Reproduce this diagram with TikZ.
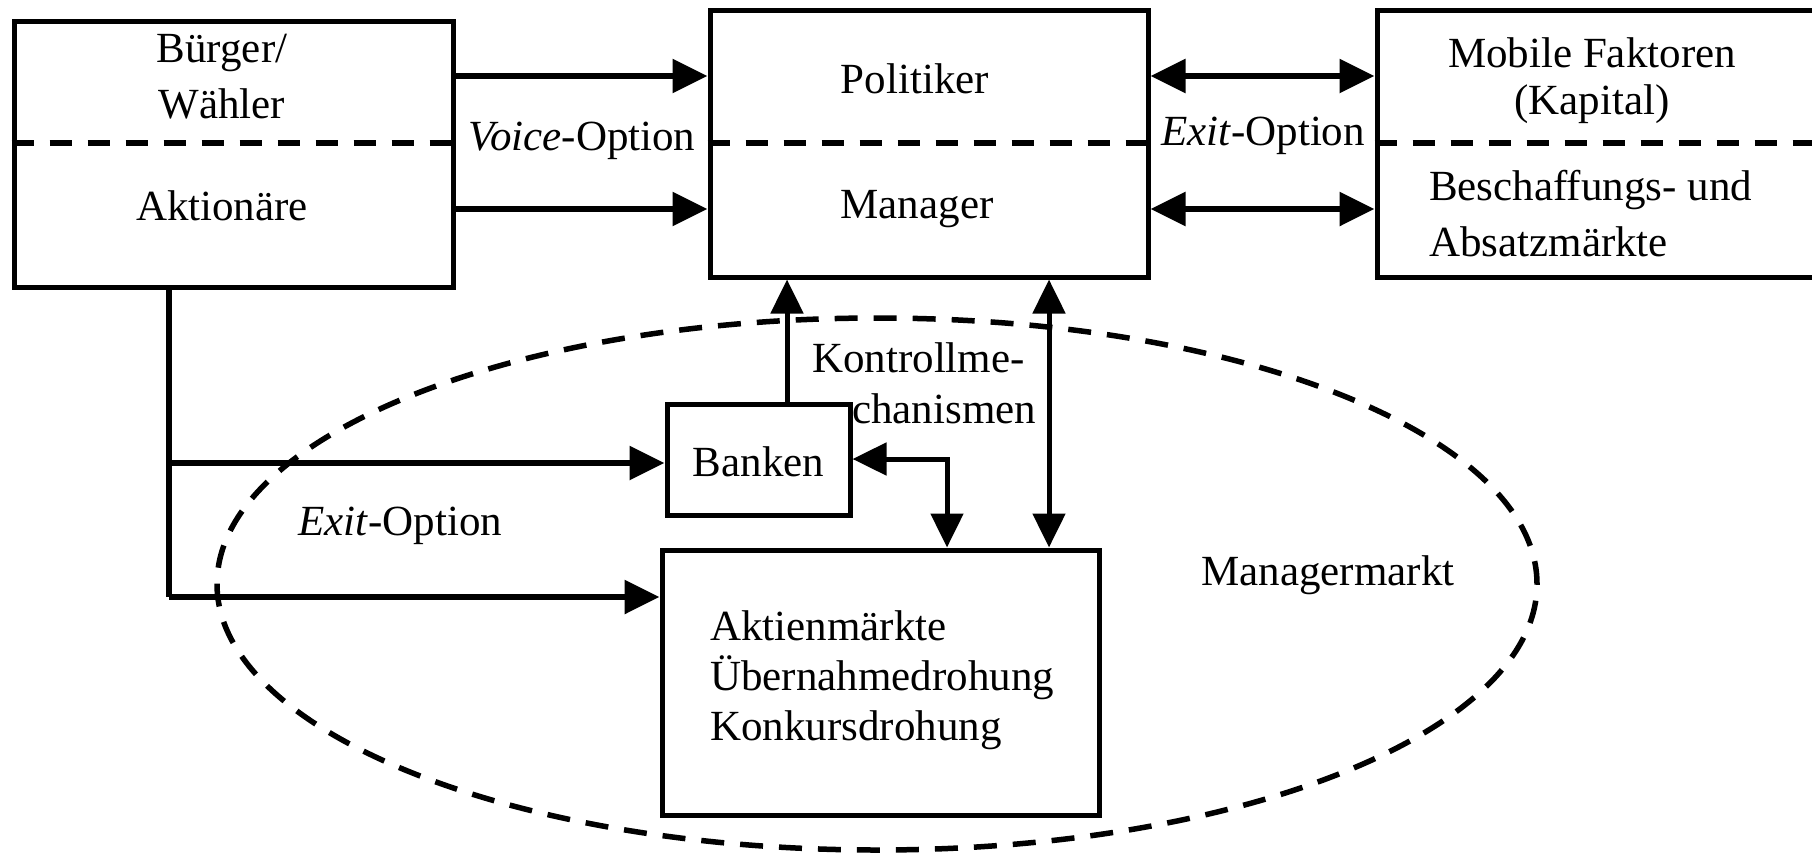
\documentclass[tikz,border=0pt]{standalone}
\usepackage{fontspec}
\setmainfont{Liberation Serif}
\usetikzlibrary{arrows.meta,shapes.geometric}
\begin{document}
\begin{tikzpicture}[x=1pt,y=-1pt,
  box/.style={draw, line width=5pt, fill=white, inner sep=0pt, rectangle},
  arr/.style={line width=6pt, -{Triangle[length=35pt,width=33pt]}},
  darr/.style={line width=6pt, {Triangle[length=35pt,width=33pt]}-{Triangle[length=35pt,width=33pt]}},
  thinarr/.style={line width=5pt, -{Triangle[length=34pt,width=32pt]}},
  thindarr/.style={line width=5pt, {Triangle[length=34pt,width=32pt]}-{Triangle[length=34pt,width=32pt]}},
  conn/.style={line width=6pt},
  dashline/.style={line width=6pt, dash pattern=on 22pt off 16pt},
  ellline/.style={line width=5.5pt, dash pattern=on 23pt off 16pt},
  txt/.style={inner sep=0pt, font=\fontsize{43}{52}\selectfont},
]
\useasboundingbox (0,0) rectangle (1812,852);
% ellipse (managermarkt)
\node[ellline, draw, ellipse, minimum width=1320pt, minimum height=532pt, inner sep=0pt] (E) at (877,584) {};

% boxes
\node[box, minimum width=439pt, minimum height=266pt] (L) at (233.5,154) {};
\node[box, minimum width=438pt, minimum height=267pt] (P) at (929,143.5) {};
\node[box, minimum width=470pt, minimum height=267pt] (R) at (1612,143.5) {};
\node[box, minimum width=183pt, minimum height=111pt] (B) at (758.5,460) {};
\node[box, minimum width=437pt, minimum height=265pt] (A) at (880.5,682.5) {};

% helper coordinates
\coordinate (ya) at (0,76);
\coordinate (yb) at (0,209);
\coordinate (yd) at (0,143);
\coordinate (xe) at (1830,0);
\coordinate (xup) at (787,0);
\coordinate (xdd) at (1049,0);
\coordinate (xbk) at (947,0);
\coordinate (xl) at (169,0);
\coordinate (yl) at (0,597);
\coordinate (ybk) at (0,459);
\coordinate (ybn) at (0,463);

% dashed dividers
\draw[dashline] (L.west |- yd) -- (L.east |- yd);
\draw[dashline] (P.west |- yd) -- (P.east |- yd);
\draw[dashline] (R.west |- yd) -- (xe |- yd);

% voice arrows
\draw[arr] (L.east |- ya) -- (P.west |- ya);
\draw[arr] (L.east |- yb) -- (P.west |- yb);
% exit arrows
\draw[darr] (P.east |- ya) -- (R.west |- ya);
\draw[darr] (P.east |- yb) -- (R.west |- yb);

% left tree
\coordinate (lt) at (xl |- L.south);
\coordinate (lb) at (xl |- yl);
\coordinate (lm) at (xl |- ybn);
\draw[conn] (lt) -- (lb);
\draw[arr] (lm) -- (B.west |- ybn);
\draw[arr] (lb) -- (A.west |- yl);

% control mechanisms
\draw[thinarr] (xup |- B.north) -- (xup |- P.south);
\draw[thindarr] (xdd |- P.south) -- (xdd |- A.north);
\coordinate (bk) at (xbk |- ybk);
\draw[thindarr] (B.east |- ybk) -- (bk) -- (xbk |- A.north);

% texts
\node[txt] (t1) at (222,53) {Bürger/};
\node[txt] (t2) at (222,104) {Wähler};
\node[txt] (t3) at (222,206) {Aktionäre};
\node[txt] (t4) at (915,79) {Politiker};
\node[txt] (t5) at (917,209) {Manager};
\node[txt] (t6) at (1592,53) {Mobile Faktoren};
\node[txt] (t7) at (1592,104) {(Kapital)};
\node[txt, anchor=west] (t8) at (1429,190) {Beschaffungs- und};
\node[txt, anchor=west] (t9) at (1429,242) {Absatzmärkte};
\node[txt] (vo) at (582,141) {\textit{Voice}-Option};
\node[txt] (eo) at (1263,136) {\textit{Exit}-Option};
\node[txt, anchor=west] (k1) at (812,358) {Kontrollme-};
\node[txt, anchor=west] (k2) at (852,409) {chanismen};
\node[txt, anchor=west] (eo2) at (298,526) {\textit{Exit}-Option};
\node[txt] (mm) at (1328,575) {Managermarkt};
\node[txt, anchor=west] (a1) at (710,626) {Aktienmärkte};
\node[txt, anchor=west] (a2) at (710,678) {Übernahmedrohung};
\node[txt, anchor=west] (a3) at (710,730) {Konkursdrohung};
\node[txt] (bn) at (758.5,462) {Banken};
\end{tikzpicture}
\end{document}
